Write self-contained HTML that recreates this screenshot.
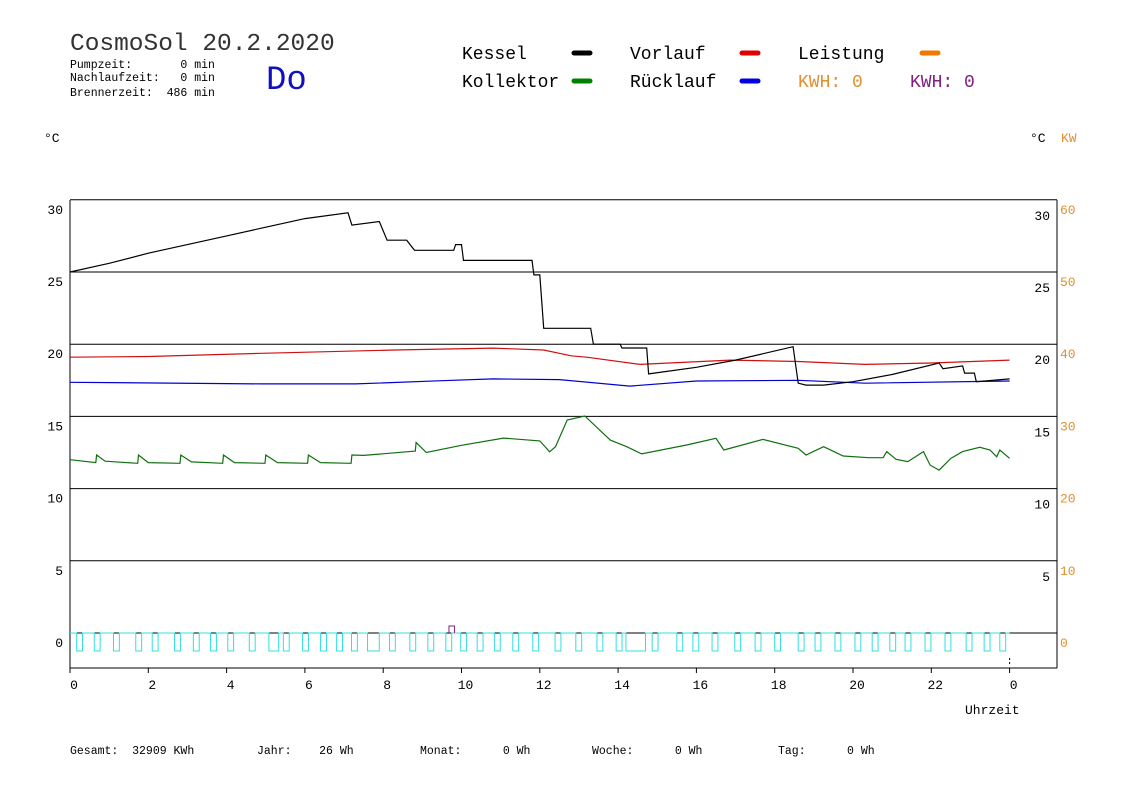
<!DOCTYPE html>
<html><head><meta charset="utf-8"><style>
body{margin:0;background:#fff;}
svg{display:block;font-family:"Liberation Mono",monospace;}
</style></head><body>
<svg id="c" width="1148" height="812" viewBox="0 0 1148 812">
<g>
<text x="70" y="50" font-size="24.5" fill="#333">CosmoSol 20.2.2020</text>
<text x="70" y="68" font-size="11.5" fill="#000" xml:space="preserve">Pumpzeit:       0 min</text>
<text x="70" y="81" font-size="11.5" fill="#000" xml:space="preserve">Nachlaufzeit:   0 min</text>
<text x="70" y="96" font-size="11.5" fill="#000" xml:space="preserve">Brennerzeit:  486 min</text>
<text x="266" y="89" font-size="34" fill="#1010c0">Do</text>
</g>
<g font-size="18">
<text x="462" y="59" fill="#000">Kessel</text>
<line x1="574" y1="53" x2="590" y2="53" stroke="#000" stroke-width="5" stroke-linecap="round"/>
<text x="630" y="59" fill="#000">Vorlauf</text>
<line x1="742" y1="53" x2="758" y2="53" stroke="#e00000" stroke-width="5" stroke-linecap="round"/>
<text x="798" y="59" fill="#000">Leistung</text>
<line x1="922" y1="53" x2="938" y2="53" stroke="#f07800" stroke-width="5" stroke-linecap="round"/>
<text x="462" y="87" fill="#000">Kollektor</text>
<line x1="574" y1="81" x2="590" y2="81" stroke="#008000" stroke-width="5" stroke-linecap="round"/>
<text x="630" y="87" fill="#000">Rücklauf</text>
<line x1="742" y1="81" x2="758" y2="81" stroke="#0000e0" stroke-width="5" stroke-linecap="round"/>
<text x="798" y="87" fill="#e09030">KWH: 0</text>
<text x="910" y="87" fill="#802080">KWH: 0</text>
</g>
<text x="44" y="142" font-size="13">°C</text>
<text x="1030" y="142" font-size="13">°C</text>
<text x="1061" y="142" font-size="13" fill="#e09030">KW</text>
<g id="axes"></g>
<g id="series"></g>
<text x="965" y="714" font-size="13">Uhrzeit</text>
<g font-size="11.5">
<text x="70" y="754" xml:space="preserve">Gesamt:  32909 KWh</text>
<text x="257" y="754" xml:space="preserve">Jahr:    26 Wh</text>
<text x="420" y="754" xml:space="preserve">Monat:      0 Wh</text>
<text x="592" y="754" xml:space="preserve">Woche:      0 Wh</text>
<text x="778" y="754" xml:space="preserve">Tag:      0 Wh</text>
</g>
</svg>
<script>
const yTicks=[0,5,10,15,20,25,30];
const kwTicks=["0","10","20","30","40","50","60"];
const xTickLabels=["0","2","4","6","8","10","12","14","16","18","20","22","0"];
const kesselH=[0,1,2,3,4,5,6,7.1,7.2,7.9,8.1,8.6,8.8,9.8,9.85,10.0,10.05,11.8,11.85,12.0,12.1,13.3,13.37,14.05,14.1,14.73,14.78,16,17,18.47,18.6,18.8,19.25,20,21,22.2,22.3,22.8,22.85,23.1,23.15,24];
const kesselV=[25.0,25.6,26.3,26.9,27.5,28.1,28.7,29.1,28.25,28.5,27.2,27.2,26.5,26.5,26.9,26.9,25.8,25.8,24.8,24.8,21.1,21.1,20.0,20.0,19.74,19.74,17.94,18.4,18.9,19.83,17.3,17.17,17.17,17.4,17.9,18.7,18.3,18.5,18.0,18.0,17.4,17.6];
const vorlaufH=[0,2,4.9,8.3,10.8,12.1,12.8,13.2,14.56,16.86,18.6,20.3,22.0,24];
const vorlaufV=[19.1,19.15,19.37,19.6,19.73,19.6,19.2,19.1,18.6,18.9,18.8,18.6,18.7,18.9];
const ruecklaufH=[0,4.9,7.3,9.5,10.8,12.5,14.3,16.0,18.6,20.3,24];
const ruecklaufV=[17.36,17.25,17.25,17.47,17.6,17.55,17.1,17.45,17.5,17.3,17.45];
const kollektorH=[0,0.66,0.68,0.9,1.73,1.75,2.0,2.81,2.83,3.1,3.9,3.92,4.2,4.98,5.0,5.3,6.07,6.09,6.4,7.18,7.2,7.5,8.82,8.84,9.1,10.0,11.07,12.0,12.25,12.4,12.7,13.15,13.8,14.22,14.6,15.75,16.5,16.7,17.7,18.6,18.8,19.25,19.75,20.4,20.77,20.86,21.1,21.4,21.8,21.97,22.2,22.5,22.8,23.24,23.5,23.67,23.75,24];
const kollektorV=[12.0,11.8,12.33,11.9,11.75,12.33,11.8,11.75,12.33,11.85,11.75,12.33,11.8,11.75,12.33,11.8,11.75,12.33,11.8,11.75,12.33,12.3,12.6,13.2,12.5,13.0,13.5,13.3,12.55,12.9,14.75,15.03,13.36,12.9,12.4,13.02,13.48,12.67,13.41,12.79,12.33,12.9,12.26,12.14,12.14,12.56,12.03,11.87,12.56,11.63,11.28,12.1,12.56,12.86,12.67,12.2,12.67,12.1];
const pulseStart=[0.17,0.62,1.11,1.68,2.1,2.67,3.15,3.59,4.03,4.58,5.08,5.45,5.94,6.4,6.81,7.19,7.6,8.16,8.68,9.14,9.6,9.98,10.4,10.84,11.31,11.82,12.39,12.92,13.46,13.95,14.2,14.87,15.5,15.91,16.4,16.98,17.5,18.0,18.6,19.03,19.54,20.05,20.49,20.94,21.33,21.84,22.35,22.89,23.35,23.75];
const pulseLen=[0.15,0.15,0.15,0.15,0.15,0.15,0.15,0.15,0.15,0.15,0.25,0.15,0.15,0.15,0.15,0.15,0.3,0.15,0.15,0.15,0.15,0.15,0.15,0.15,0.15,0.15,0.15,0.15,0.15,0.15,0.5,0.15,0.15,0.15,0.15,0.15,0.15,0.15,0.15,0.15,0.15,0.15,0.15,0.15,0.15,0.15,0.15,0.15,0.15,0.15];
const NS="http://www.w3.org/2000/svg";
const X0=70,XH=39.15,Y0=633,YS=14.44,L=70,R=1057,T=200,B=668;
function xs(h){return X0+h*XH;}
function ys(v){return Y0-v*YS;}
function mk(tag,attrs,parent){const e=document.createElementNS(NS,tag);for(const k in attrs)e.setAttribute(k,attrs[k]);parent.appendChild(e);return e;}
const ax=document.getElementById('axes'),se=document.getElementById('series');
yTicks.forEach((v,i)=>{
  const y=ys(v);
  const ln=mk('line',{x1:L,x2:R,y1:y,y2:y,stroke:'#000','stroke-width':1},ax);
  
  
  const t1=mk('text',{x:63,y:y+14,'font-size':13,'text-anchor':'end'},ax);t1.textContent=v;
  
  
  if(v>0){const t2=mk('text',{x:1050,y:y+20,'font-size':13,'text-anchor':'end'},ax);t2.textContent=v;
  
  }
  const t3=mk('text',{x:1060,y:y+14,'font-size':13,fill:'#e09030'},ax);t3.textContent=kwTicks[i];
  
  
});
[['M',L,T,L,B],['M',R,T,R,B],['M',L,B,R,B]].forEach(a=>{const e=mk('line',{x1:a[1],y1:a[2],x2:a[3],y2:a[4],stroke:'#000'},ax);
  
  });
xTickLabels.forEach((lab,i)=>{
  const x=xs(i*2);
  const tk=mk('line',{x1:x,x2:x,y1:B,y2:B+5,stroke:'#000'},ax);
  
  
  const t=mk('text',{x:x+4,y:B+21,'font-size':13,'text-anchor':'middle'},ax);t.textContent=lab;
  
  
});
const dm=mk('line',{x1:xs(24),x2:xs(24),y1:658,y2:666,stroke:'#000','stroke-dasharray':'2,2'},ax);


let d='M'+xs(0)+','+Y0;
pulseStart.forEach((h,i)=>{const a=xs(h),b=xs(h+pulseLen[i]);d+=' L'+a+','+Y0+' L'+a+','+(Y0+18)+' L'+b+','+(Y0+18)+' L'+b+','+Y0;});
d+=' L'+xs(24)+','+Y0;
const pp=mk('path',{d:d,fill:'none',stroke:'#30e0e0','stroke-width':1},se);


const sp=mk('path',{d:'M'+xs(9.68)+','+Y0+' V'+(Y0-7)+' H'+xs(9.82)+' V'+Y0,fill:'none',stroke:'#802080'},se);


function series(H,V,color,name){
  const pts=H.map((h,i)=>xs(h).toFixed(1)+','+ys(V[i]).toFixed(1)).join(' ');
  const p=mk('polyline',{points:pts,fill:'none',stroke:color,'stroke-width':1.2},se);
  
  
}
series(kollektorH,kollektorV,'#107010','kollektor-line');
series(ruecklaufH,ruecklaufV,'#0000d0','ruecklauf-line');
series(vorlaufH,vorlaufV,'#d01010','vorlauf-line');
series(kesselH,kesselV,'#000','kessel-line');
</script>
</body></html>
